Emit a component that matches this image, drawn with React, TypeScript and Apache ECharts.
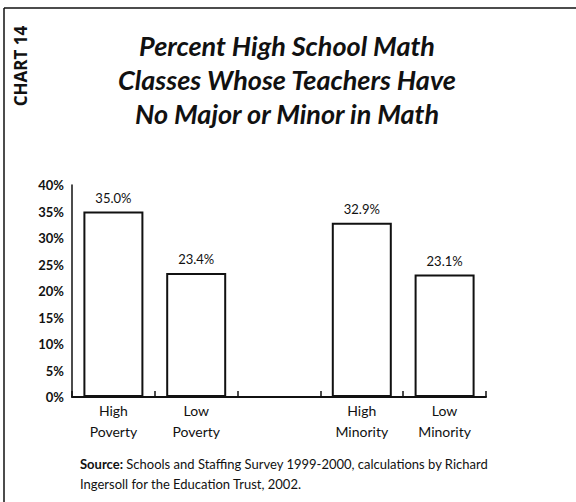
import React, { useEffect, useRef } from "react";
import * as echarts from "echarts";

const categories = ["High\nPoverty", "Low\nPoverty", "", "High\nMinority", "Low\nMinority"];
const values: (number | null)[] = [35.0, 23.4, null, 32.9, 23.1];
const valueLabels = ["35.0%", "23.4%", "", "32.9%", "23.1%"];
const titleLines = [
  "Percent High School Math",
  "Classes Whose Teachers Have",
  "No Major or Minor in Math",
];
const chartTag = "CHART 14";
const sourceLines = [
  "Schools and Staffing Survey 1999-2000, calculations by Richard",
  "Ingersoll for the Education Trust, 2002.",
];

export default function App() {
  const ref = useRef<HTMLDivElement>(null);
  useEffect(() => {
    if (!ref.current) return;
    const chart = echarts.init(ref.current, null, { renderer: "svg" });
    const font = "Lato, 'Open Sans', sans-serif";
    chart.setOption({
      animation: false,
      backgroundColor: "#ffffff",
      textStyle: { fontFamily: font, color: "#111" },
      grid: { left: 72, right: 90, top: 185, bottom: 105 },
      xAxis: {
        type: "category",
        data: categories,
        axisLine: { lineStyle: { color: "#111", width: 2 } },
        axisTick: { show: true, inside: true, length: 6, lineStyle: { color: "#111", width: 1.5 } },
        axisLabel: { color: "#111", fontSize: 14, lineHeight: 21, margin: 3, fontFamily: font },
      },
      yAxis: {
        type: "value",
        min: 0,
        max: 40,
        interval: 5,
        splitLine: { show: false },
        axisLine: { show: true, lineStyle: { color: "#111", width: 1.5 } },
        axisTick: { show: false },
        axisLabel: {
          formatter: "{value}%",
          color: "#111",
          fontSize: 13,
          fontWeight: "bold",
          margin: 8,
          fontFamily: font,
        },
      },
      series: [
        {
          type: "bar",
          data: values,
          barWidth: 60,
          itemStyle: { color: "#ffffff", borderColor: "#111", borderWidth: 2 },
          label: {
            show: true,
            position: "top",
            distance: 7,
            color: "#111",
            fontSize: 13,
            fontFamily: font,
            formatter: (p: any) => valueLabels[p.dataIndex],
          },
        },
      ],
      graphic: [
        { type: "line", shape: { x1: 4, y1: 8, x2: 576, y2: 8 }, style: { stroke: "#111", lineWidth: 1.5 } },
        { type: "line", shape: { x1: 4, y1: 8, x2: 4, y2: 502 }, style: { stroke: "#111", lineWidth: 1.5 } },
        {
          type: "text",
          x: 20,
          y: 66,
          rotation: Math.PI / 2,
          style: {
            text: chartTag,
            fill: "#111",
            font: `bold 17px 'Open Sans', sans-serif`,
            textAlign: "center",
            textVerticalAlign: "middle",
          },
        },
        ...titleLines.map((t, i) => ({
          type: "text",
          x: 287,
          y: 45 + i * 34,
          style: {
            text: t,
            fill: "#111",
            font: `italic bold 27px ${font}`,
            textAlign: "center",
            textVerticalAlign: "middle",
          },
        })),
        {
          type: "text",
          x: 80,
          y: 474,
          style: {
            text: "{b|Source:} " + sourceLines[0] + "\n" + sourceLines[1],
            fill: "#111",
            font: `13px ${font}`,
            lineHeight: 20,
            textVerticalAlign: "middle",
            rich: { b: { fontWeight: "bold", fontSize: 13, fontFamily: font } },
          },
        },
      ],
    });
    return () => chart.dispose();
  }, []);
  return (
    <div
      ref={ref}
      style={{ position: "fixed", left: 0, top: 0, width: 576, height: 502 }}
    />
  );
}
